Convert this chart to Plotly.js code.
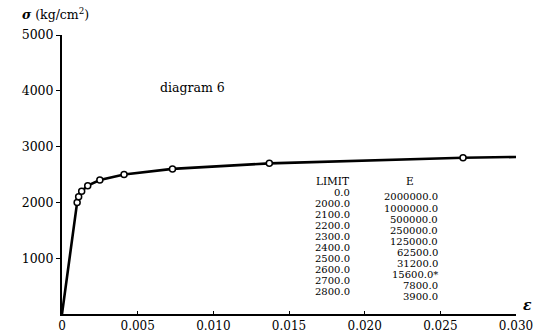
<!DOCTYPE html>
<html><head><meta charset="utf-8">
<script src="https://cdn.plot.ly/plotly-3.0.1.min.js"></script>
<style>html,body{margin:0;padding:0;background:#fff;}#c{width:538px;height:335px;}</style>
</head><body><div id="c"></div>
<script>
// curve (strain, stress)
const strain = [0, 0.0010, 0.0011, 0.0013, 0.0017, 0.0025, 0.0041, 0.0073, 0.0137, 0.0265, 0.0302];
const stress = [0, 2000, 2100, 2200, 2300, 2400, 2500, 2600, 2700, 2800, 2815];
// marked break points
const markStrain = [0.0010, 0.0011, 0.0013, 0.0017, 0.0025, 0.0041, 0.0073, 0.0137, 0.0265];
const markStress = [2000, 2100, 2200, 2300, 2400, 2500, 2600, 2700, 2800];
// table
const limitCol = ["0.0","2000.0","2100.0","2200.0","2300.0","2400.0","2500.0","2600.0","2700.0","2800.0"];
const eCol = ["2000000.0","1000000.0","500000.0","250000.0","125000.0","62500.0","31200.0","15600.0*","7800.0","3900.0"];
// ticks
const xTickVals = [0, 0.005, 0.010, 0.015, 0.020, 0.025, 0.030];
const xTickText = ["0", "0.005", "0.010", "0.015", "0.020", "0.025", "0.030"];
const yTickVals = [1000, 2000, 3000, 4000, 5000];

const serif = "DejaVu Serif, Liberation Serif, serif";

const traces = [
  {x: strain, y: stress, mode: "lines", line: {color: "#000", width: 2.6}, cliponaxis: false, hoverinfo: "skip"},
  {x: markStrain, y: markStress, mode: "markers", cliponaxis: false,
   marker: {symbol: "circle", size: 6, color: "#fff", line: {color: "#000", width: 1.5}}}
];

const TOP = 192, STEP = 11.1;
const anns = [];
function px(x, y, text, anchor, size) {
  anns.push({xref: "paper", yref: "paper",
    x: (x - 62) / 454, y: (314 - y) / 279, text: text, showarrow: false,
    xanchor: anchor, yanchor: "middle", font: {family: serif, size: size, color: "#000"}});
}
px(314, 181, "LIMIT", "left", 10.5);
px(404, 181, "E", "left", 10.5);
limitCol.forEach((t, i) => px(352, TOP + i * STEP, t, "right", 10));
eCol.forEach((t, i) => px(440, TOP + 5 + i * STEP, t, "right", 10));
px(158, 87, "diagram 6", "left", 12.5);
px(20, 14, "<b><i>σ</i></b> (kg/cm<sup>2</sup>)", "left", 12.5);
px(521, 305, "<b><i>ε</i></b>", "left", 14);

Plotly.newPlot("c", traces, {
  width: 538, height: 335,
  margin: {l: 62, r: 22, t: 35, b: 21},
  paper_bgcolor: "#fff", plot_bgcolor: "#fff",
  showlegend: false,
  font: {family: serif, size: 12, color: "#000"},
  xaxis: {range: [0, 0.030], tickvals: xTickVals, ticktext: xTickText, showgrid: false, zeroline: false,
          showline: true, linecolor: "#000", linewidth: 2, ticks: "inside", ticklen: 3, tickcolor: "#000",
          tickfont: {family: serif, size: 12}},
  yaxis: {range: [0, 5000], tickvals: yTickVals, showgrid: false, zeroline: false,
          showline: true, linecolor: "#000", linewidth: 2, ticks: "outside", ticklen: 4, tickcolor: "#000",
          tickfont: {family: serif, size: 12.5}},
  annotations: anns
}, {staticPlot: true});
</script></body></html>
